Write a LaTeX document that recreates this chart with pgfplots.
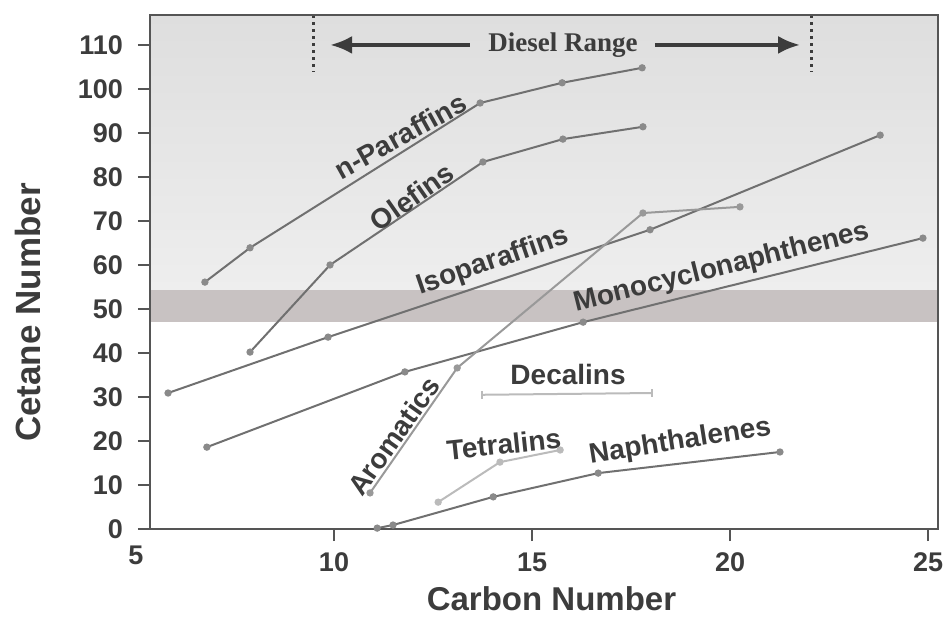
\documentclass[border=0pt]{standalone}
\usepackage{pgfplots}
\pgfplotsset{compat=1.18}
\usepackage{fontspec}
\setmainfont{Liberation Sans}
\newfontfamily\serifb{Liberation Serif}
\usetikzlibrary{arrows.meta}
\definecolor{framec}{HTML}{555555}
\definecolor{labc}{HTML}{3C3C3C}
\definecolor{mainc}{HTML}{707070}
\definecolor{markc}{HTML}{8A8A8A}
\definecolor{aroc}{HTML}{999999}
\definecolor{lightc}{HTML}{BBBBBB}
\definecolor{bandc}{HTML}{C8C2C2}
\definecolor{topc}{HTML}{DEDEDE}
\definecolor{botc}{HTML}{EEEEEE}
\begin{document}
\begin{tikzpicture}
\begin{axis}[
  width=394pt, height=257pt, scale only axis,
  xmin=5.354, xmax=25.25, ymin=0, ymax=116.8,
  xtick={10,15,20,25}, ytick={0,10,...,110},
  xtick pos=bottom, ytick pos=left,
  tick align=outside, major tick length=6pt,
  axis on top, clip=false,
  axis line style={draw=framec, line width=1.1pt},
  tick style={draw=framec, line width=0.8pt},
  ticklabel style={font=\fontsize{13.5}{15}\selectfont\bfseries, text=labc},
  /pgf/number format/assume math mode=true,
  xticklabel style={yshift=-2.5pt},
  yticklabel style={xshift=-4pt},
  xlabel={Carbon Number}, ylabel={Cetane Number},
  xlabel style={at={(axis description cs:0.5095,-0.111)}, anchor=north, inner sep=0pt, font=\fontsize{16.5}{18}\selectfont\bfseries, text=labc},
  ylabel style={at={(axis description cs:-0.1542,0.421)}, anchor=center, inner sep=0pt, font=\fontsize{17.5}{19}\selectfont\bfseries, text=labc},
  every axis plot/.append style={line width=1pt, mark=*, mark size=1.3pt},
]
\fill[top color=topc, bottom color=botc] (axis cs:5.354,54.3) rectangle (axis cs:25.25,116.8);
\fill[bandc] (axis cs:5.354,47.0) rectangle (axis cs:25.25,54.3);

% n-Paraffins
\addplot[mainc, mark options={fill=markc, draw=markc}] coordinates {(6.74,56.1) (7.88,63.9) (13.69,96.8) (15.76,101.4) (17.78,104.8)};
% Olefins
\addplot[mainc, mark options={fill=markc, draw=markc}] coordinates {(7.88,40.2) (9.90,60.0) (13.76,83.4) (15.78,88.6) (17.80,91.4)};
% Isoparaffins
\addplot[mainc, mark options={fill=markc, draw=markc}] coordinates {(5.81,30.9) (9.85,43.6) (17.98,68.0) (23.79,89.5)};
% Monocyclonaphthenes
\addplot[mainc, mark options={fill=markc, draw=markc}] coordinates {(6.79,18.6) (11.79,35.7) (16.29,47.0) (24.87,66.1)};
% Aromatics
\addplot[aroc, mark options={fill=aroc}] coordinates {(10.91,8.2) (13.11,36.6) (17.80,71.8) (20.25,73.2)};
% Decalins
\addplot[lightc, mark=|, mark size=2pt] coordinates {(13.74,30.5) (18.03,30.9)};
% Tetralins
\addplot[lightc, mark options={fill=lightc}] coordinates {(12.63,6.1) (14.19,15.2) (15.71,17.95)};
% Naphthalenes
\addplot[mainc, mark options={fill=markc, draw=markc}] coordinates {(11.09,0.2) (11.49,0.9) (14.02,7.3) (16.67,12.7) (21.26,17.5)};

% Diesel range annotation
\draw[labc, line width=1.5pt, dash pattern=on 1.5pt off 2pt] (axis cs:9.47,116.8) -- (axis cs:9.47,103.9);
\draw[labc, line width=1.5pt, dash pattern=on 1.5pt off 2pt] (axis cs:22.05,116.8) -- (axis cs:22.05,103.9);
\draw[labc, line width=2pt, -{Latex[length=11pt,width=9pt]}] (axis cs:13.43,110) -- (axis cs:9.9,110);
\draw[labc, line width=2pt, -{Latex[length=11pt,width=9pt]}] (axis cs:18.1,110) -- (axis cs:21.77,110);
\node[text=labc, font=\serifb\fontsize{13.5}{15}\selectfont\bfseries] at (axis cs:15.78,110) {Diesel Range};

% curve labels
\tikzset{clab/.style={text=labc, font=\fontsize{14}{16}\selectfont\bfseries, inner sep=0pt}}
\node[clab, rotate=29] at (axis cs:11.67,89.3) {n-Paraffins};
\node[clab, rotate=35] at (axis cs:11.97,75.5) {Olefins};
\node[clab, rotate=19] at (axis cs:14.02,60.7) {Isoparaffins};
\node[clab, rotate=14] at (axis cs:19.8,59.3) {Monocyclonaphthenes};
\node[clab, rotate=54.5] at (axis cs:11.51,21.1) {Aromatics};
\node[clab] at (axis cs:15.91,35.2) {Decalins};
\node[clab, rotate=6] at (axis cs:14.29,19.3) {Tetralins};
\node[clab, rotate=9] at (axis cs:18.74,19.8) {Naphthalenes};
\node[anchor=north, inner sep=0pt, yshift=-8.5pt, text=labc, font=\fontsize{13.5}{15}\selectfont\bfseries] at (axis cs:5,0) {5};
\end{axis}
\pgfresetboundingbox
\path[use as bounding box] ([shift={(-75pt,-44pt)}]current axis.south west) rectangle ([shift={(3.5pt,7.5pt)}]current axis.north east);
\end{tikzpicture}
\end{document}
